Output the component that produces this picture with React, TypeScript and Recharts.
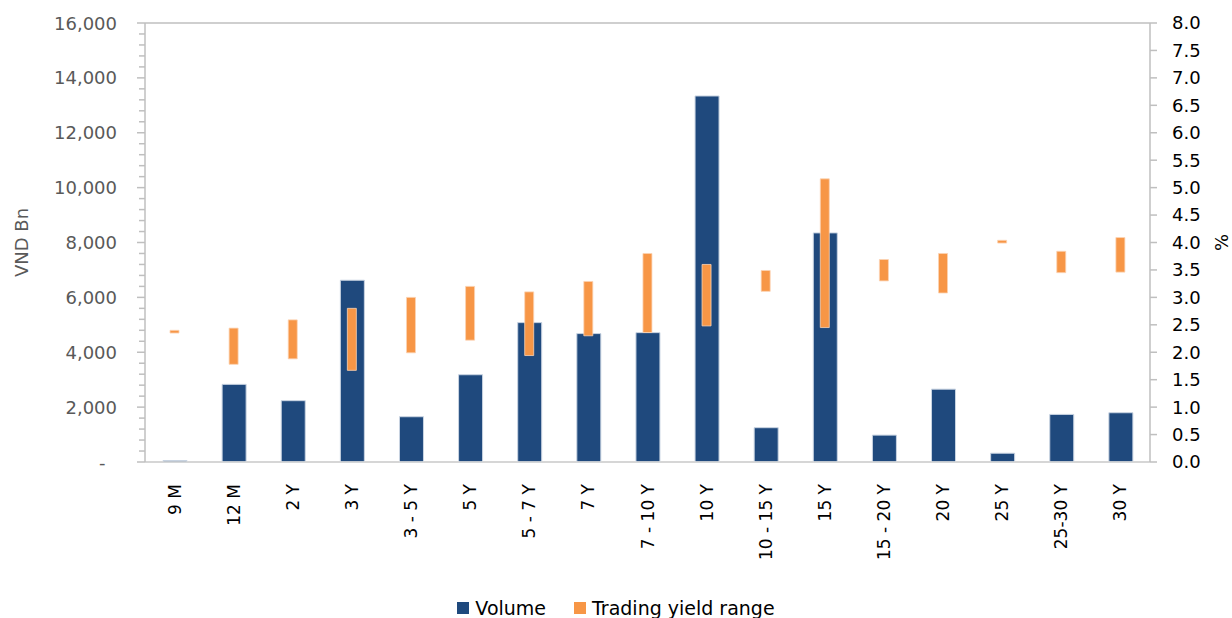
import React from 'react';
import { ComposedChart, Bar, XAxis, YAxis, CartesianGrid, Legend } from 'recharts';

const categories = ['9 M', '12 M', '2 Y', '3 Y', '3 - 5 Y', '5 Y', '5 - 7 Y', '7 Y', '7 - 10 Y', '10 Y', '10 - 15 Y', '15 Y', '15 - 20 Y', '20 Y', '25 Y', '25-30 Y', '30 Y'];
const volume = [55, 2830, 2235, 6625, 1650, 3180, 5080, 4680, 4715, 13340, 1250, 8350, 980, 2655, 320, 1735, 1795];
const yieldLow = [2.35, 1.78, 1.88, 1.67, 1.99, 2.22, 1.94, 2.30, 2.36, 2.48, 3.11, 2.45, 3.30, 3.08, 3.99, 3.45, 3.46];
const yieldHigh = [2.40, 2.44, 2.59, 2.80, 3.00, 3.20, 3.10, 3.29, 3.80, 3.60, 3.49, 5.16, 3.69, 3.80, 4.04, 3.84, 4.09];
const leftTicks = [0, 2000, 4000, 6000, 8000, 10000, 12000, 14000, 16000];
const leftMinorTicks = Array.from({ length: 41 }, (_, i) => i * 400);
const rightTicks = Array.from({ length: 17 }, (_, i) => i * 0.5);
const seriesNames = ['Volume', 'Trading yield range'];

const data = categories.map((c, i) => ({
  category: c,
  volume: volume[i],
  yieldRange: [yieldLow[i], yieldHigh[i]],
}));

const FONT = '"DejaVu Sans", sans-serif';
const BLUE = '#1F497D';
const ORANGE = '#F79646';
const GRID = '#BFBFBF';

const XTick = (props: any) => {
  const { x, y, payload } = props;
  return (
    <text
      x={x}
      y={y}
      transform={`rotate(-90 ${x} ${y})`}
      textAnchor="end"
      dominantBaseline="central"
      fontFamily={FONT}
      fontSize={17}
      fill="#000"
    >
      {payload.value}
    </text>
  );
};

const LeftTick = (props: any) => {
  const { x, y, payload } = props;
  const v = payload.value;
  const isMajor = leftTicks.includes(v);
  const label = v === 0 ? '-\u00A0\u00A0' : v.toLocaleString('en-US');
  return (
    <g>
      <line x1={x - (isMajor ? 8 : 6)} x2={x} y1={y} y2={y} stroke={GRID} strokeWidth={1.5} />
      {isMajor && (
        <text x={x - 28} y={y} textAnchor="end" dominantBaseline="central" fontFamily={FONT} fontSize={18} fill="#595959">
          {label}
        </text>
      )}
    </g>
  );
};

const LegendContent = (props: any) => {
  const payload = [...(props.payload || [])].sort(
    (a: any, b: any) => seriesNames.indexOf(a.value) - seriesNames.indexOf(b.value)
  );
  return (
    <div style={{ display: 'flex', justifyContent: 'center', alignItems: 'center', fontFamily: FONT, fontSize: 19, color: '#000', lineHeight: '24px' }}>
      {payload.map((p: any, i: number) => (
        <div key={i} style={{ display: 'flex', alignItems: 'center', marginLeft: i > 0 ? 28 : 0 }}>
          <span style={{ display: 'inline-block', width: 12, height: 12, background: p.color, marginRight: 6 }} />
          <span>{p.value}</span>
        </div>
      ))}
    </div>
  );
};

export default function App() {
  return (
    <div style={{ position: 'absolute', left: 0, top: 0, width: 1232, height: 618, background: '#fff' }}>
      <ComposedChart width={1232} height={618} data={data} margin={{ top: 23, right: 0, bottom: 0, left: 0 }}>
        <CartesianGrid vertical={false} yAxisId="gridAxis" stroke={GRID} strokeWidth={1.5} />
        <XAxis
          xAxisId="x1"
          dataKey="category"
          height={156}
          interval={0}
          tickLine={false}
          tickSize={0}
          tickMargin={22}
          axisLine={{ stroke: '#D9D9D9', strokeWidth: 1.5 }}
          tick={<XTick />}
        />
        <XAxis xAxisId="x2" dataKey="category" hide />
        <YAxis
          yAxisId="left"
          orientation="left"
          width={145}
          domain={[0, 16000]}
          ticks={leftMinorTicks}
          interval={0}
          tickSize={0}
          tickMargin={0}
          tickLine={false}
          axisLine={{ stroke: GRID, strokeWidth: 1.5 }}
          tick={<LeftTick />}
          label={(p: any) => {
            const vb = p.viewBox;
            const cx = vb.x + 21;
            const cy = vb.y + vb.height / 2;
            return (
              <text x={cx} y={cy} transform={`rotate(-90 ${cx} ${cy})`} textAnchor="middle" dominantBaseline="central" fontFamily={FONT} fontSize={18} fill="#595959">
                VND Bn
              </text>
            );
          }}
        />
        <YAxis yAxisId="gridAxis" hide width={0} domain={[0, 16000]} ticks={leftTicks} interval={0} />
        <YAxis
          yAxisId="right"
          orientation="right"
          width={82}
          domain={[0, 8]}
          ticks={rightTicks}
          interval={0}
          tickSize={7}
          tickMargin={15}
          axisLine={{ stroke: GRID, strokeWidth: 1.5 }}
          tickLine={{ stroke: GRID, strokeWidth: 1.5 }}
          tick={{ fontFamily: FONT, fontSize: 18, fill: '#000', textAnchor: 'start' }}
          tickFormatter={(v: number) => v.toFixed(1)}
          label={(p: any) => {
            const vb = p.viewBox;
            const cx = vb.x + 71;
            const cy = vb.y + vb.height / 2;
            return (
              <text x={cx} y={cy} transform={`rotate(-90 ${cx} ${cy})`} textAnchor="middle" dominantBaseline="central" fontFamily={FONT} fontSize={18} fill="#000">
                %
              </text>
            );
          }}
        />
        <Bar xAxisId="x1" yAxisId="left" dataKey="volume" name="Volume" fill={BLUE} stroke="#C9D4E2" strokeWidth={1} barSize={24} isAnimationActive={false} />
        <Bar xAxisId="x2" yAxisId="right" dataKey="yieldRange" name="Trading yield range" fill={ORANGE} stroke="#FBD3B4" strokeWidth={0.8} barSize={9} isAnimationActive={false} />
        <Legend
          layout="horizontal"
          verticalAlign="middle"
          align="center"
          content={<LegendContent />}
          wrapperStyle={{ top: 596, left: 0, width: 1232 }}
        />
      </ComposedChart>
    </div>
  );
}
